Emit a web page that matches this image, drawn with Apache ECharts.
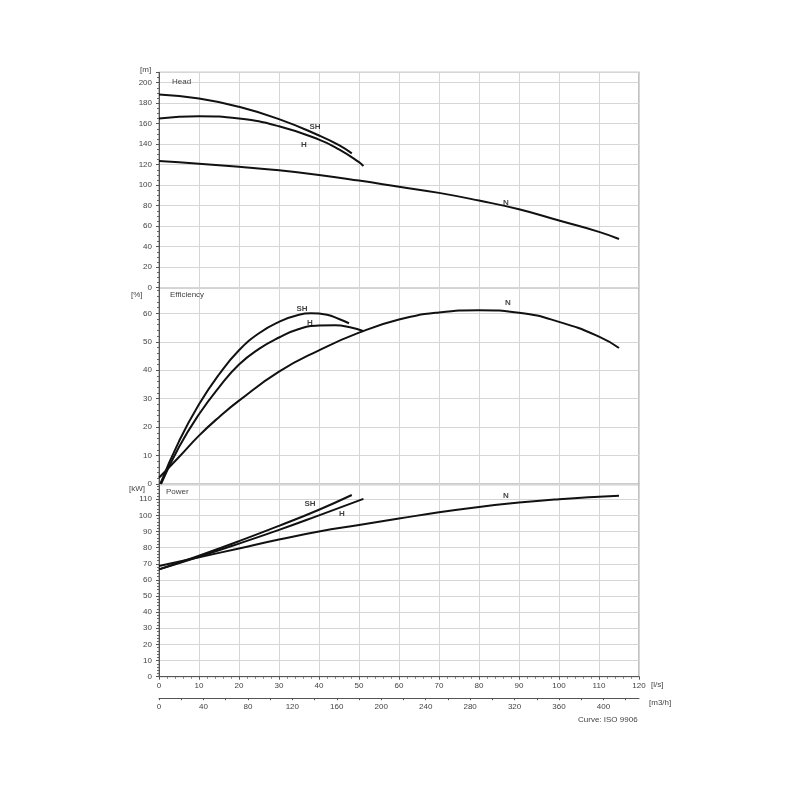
<!DOCTYPE html>
<html>
<head>
<meta charset="utf-8">
<script src="https://cdn.jsdelivr.net/npm/echarts@6/dist/echarts.min.js"></script>
<style>html,body{margin:0;padding:0;background:#fff}#c{width:800px;height:800px}</style>
</head>
<body>
<div id="c"></div>
<script>
// ---------- DATA (flow in l/s) ----------
const headQ_SH = [0, 10, 20, 30, 40, 45, 48.2];
const head_SH  = [188.5, 184.5, 176.5, 164.5, 148.5, 139, 131];
const headQ_H  = [0, 10, 20, 30, 40, 45, 50, 51.1];
const head_H   = [165, 167.3, 165, 157.5, 144.5, 135, 122.5, 118.7];
const headQ_N  = [0, 10, 20, 30, 40, 50, 60, 70, 80, 90, 100, 110, 115];
const head_N   = [123.5, 121, 118, 114.5, 110, 104.5, 98.5, 92.5, 85, 76.5, 65.5, 54.5, 47.5];

const effQ_SH = [0.3, 5, 10, 15, 20, 25, 30, 35, 38, 42, 45, 47.5];
const eff_SH  = [0, 15, 28, 38.5, 47, 53, 57, 59.5, 60, 59.5, 58, 56.5];
const effQ_H  = [0.5, 5, 10, 15, 20, 25, 30, 35, 40, 44, 48, 51];
const eff_H   = [0, 13, 24.5, 34, 42, 47.5, 51.5, 54.5, 55.7, 55.8, 55, 53.8];
const effQ_N  = [0, 5, 10, 15, 20, 30, 40, 50, 60, 70, 80, 90, 100, 110, 115];
const eff_N   = [2.2, 9.5, 17, 23.5, 29.3, 39.5, 47, 53.2, 57.8, 60.3, 61.1, 60.2, 57, 51.8, 47.8];

const powQ_SH = [0, 10, 20, 30, 40, 48.2];
const pow_SH  = [66.5, 75, 84, 93.5, 103.5, 112.6];
const powQ_H  = [0, 10, 20, 30, 40, 51.1];
const pow_H   = [66.5, 74.3, 82.5, 91, 100, 110.2];
const powQ_N  = [0, 10, 20, 30, 40, 50, 60, 70, 80, 90, 100, 110, 115];
const pow_N   = [68.6, 74, 79.5, 85, 90, 94, 98, 101.9, 105.2, 107.9, 110, 111.6, 112.2];

// curve labels [x, y, text]
const headLabels = [[39, 156.8, 'SH'], [36.25, 139.2, 'H'], [86.75, 82.6, 'N']];
const effLabels  = [[35.75, 61.5, 'SH'], [37.75, 56.6, 'H'], [87.25, 63.6, 'N']];
const powLabels  = [[37.75, 107, 'SH'], [45.75, 100.9, 'H'], [86.75, 112, 'N']];

// axis ranges / ticks
const flowMax = 120, flowStep = 10;
const m3hMax = 432, m3hStep = 20, m3hLabelStep = 40;
const headMax = 210, headStep = 20;
const effMax = 69, effStep = 10;
const powMax = 119, powStep = 10;

// ---------- CHART ----------
const zip = (xs, ys) => xs.map((x, i) => [x, ys[i]]);
const chart = echarts.init(document.getElementById('c'), null, {renderer: 'canvas'});
const txt = '#444';
const grids = [
  {left: 159, width: 480, top: 72.45, height: 215.25},
  {left: 159, width: 480, top: 287.7, height: 196.3},
  {left: 159, width: 480, top: 484.7, height: 192}
].map(g => Object.assign(g, {show: true, borderColor: '#9a9a9a', borderWidth: 1.2, backgroundColor: 'transparent'}));

function xAx(i, showLabels) {
  return {
    type: 'value', gridIndex: i, min: 0, max: flowMax, interval: flowStep,
    axisLine: {show: showLabels, lineStyle: {color: '#555', width: 1}},
    axisTick: {show: showLabels, length: 3, lineStyle: {color: '#555'}},
    minorTick: {show: showLabels, splitNumber: 5, length: 2, lineStyle: {color: '#777'}},
    axisLabel: {show: showLabels, color: txt, fontSize: 8, margin: 5, fontFamily: 'Liberation Sans'},
    splitLine: {show: true, lineStyle: {color: '#d6d6d6', width: 1}}
  };
}
function yAx(i, max, step, minorSplit) {
  return {
    type: 'value', gridIndex: i, min: 0, max: max, interval: step,
    axisLine: {show: true, lineStyle: {color: '#555', width: 1}},
    axisTick: {show: true, length: 3, lineStyle: {color: '#555'}},
    minorTick: {show: true, splitNumber: minorSplit, length: 2, lineStyle: {color: '#666'}},
    axisLabel: {color: txt, fontSize: 8, margin: 7, fontFamily: 'Liberation Sans',
      formatter: v => (Math.abs(v % step) < 1e-9 ? String(v) : '')},
    splitLine: {show: true, lineStyle: {color: '#d6d6d6', width: 1}}
  };
}
const xAxes = [xAx(0, false), xAx(1, false), xAx(2, true), {
  type: 'value', gridIndex: 2, position: 'bottom', offset: 21.5,
  min: 0, max: m3hMax, interval: m3hStep,
  axisLine: {show: true, onZero: false, lineStyle: {color: '#555', width: 1}},
  axisTick: {show: true, length: 2, inside: false, lineStyle: {color: '#555'}},
  axisLabel: {color: txt, fontSize: 8, margin: 5, fontFamily: 'Liberation Sans', showMaxLabel: false,
    formatter: v => (v % m3hLabelStep === 0 ? String(v) : '')},
  splitLine: {show: false}
}];
const yAxes = [yAx(0, headMax, headStep, 4), yAx(1, effMax, effStep, 5), yAx(2, powMax, powStep, 5)];

function line(idx, xs, ys) {
  return {type: 'line', xAxisIndex: idx, yAxisIndex: idx, data: zip(xs, ys), smooth: 0.5,
    showSymbol: false, symbol: 'none', silent: true,
    lineStyle: {color: '#111', width: 2}};
}
function labels(idx, arr) {
  return {type: 'scatter', xAxisIndex: idx, yAxisIndex: idx, data: arr, symbolSize: 2,
    itemStyle: {color: 'rgba(0,0,0,0)'}, silent: true, z: 5,
    label: {show: true, position: 'inside', formatter: p => p.value[2], color: '#111',
      fontSize: 8, fontWeight: 'bold', fontFamily: 'Liberation Sans'}};
}
const series = [
  line(0, headQ_SH, head_SH), line(0, headQ_H, head_H), line(0, headQ_N, head_N),
  line(1, effQ_SH, eff_SH), line(1, effQ_H, eff_H), line(1, effQ_N, eff_N),
  line(2, powQ_SH, pow_SH), line(2, powQ_H, pow_H), line(2, powQ_N, pow_N),
  labels(0, headLabels), labels(1, effLabels), labels(2, powLabels)
];
const t = (x, y, s, extra) => ({type: 'text', left: x, top: y, silent: true, z: 10,
  style: Object.assign({text: s, fill: txt, fontSize: 8, fontFamily: 'Liberation Sans'}, extra || {})});
const graphic = [
  t(140, 66, '[m]'), t(172, 78, 'Head'),
  t(131, 291, '[%]'), t(170, 291, 'Efficiency'),
  t(129, 485, '[kW]'), t(166, 488, 'Power'),
  t(651, 681, '[l/s]'), t(649, 699, '[m3/h]'),
  t(578, 716, 'Curve: ISO 9906')
];
chart.setOption({animation: false, backgroundColor: '#fff', grid: grids, xAxis: xAxes, yAxis: yAxes, series, graphic});
</script>
</body>
</html>
